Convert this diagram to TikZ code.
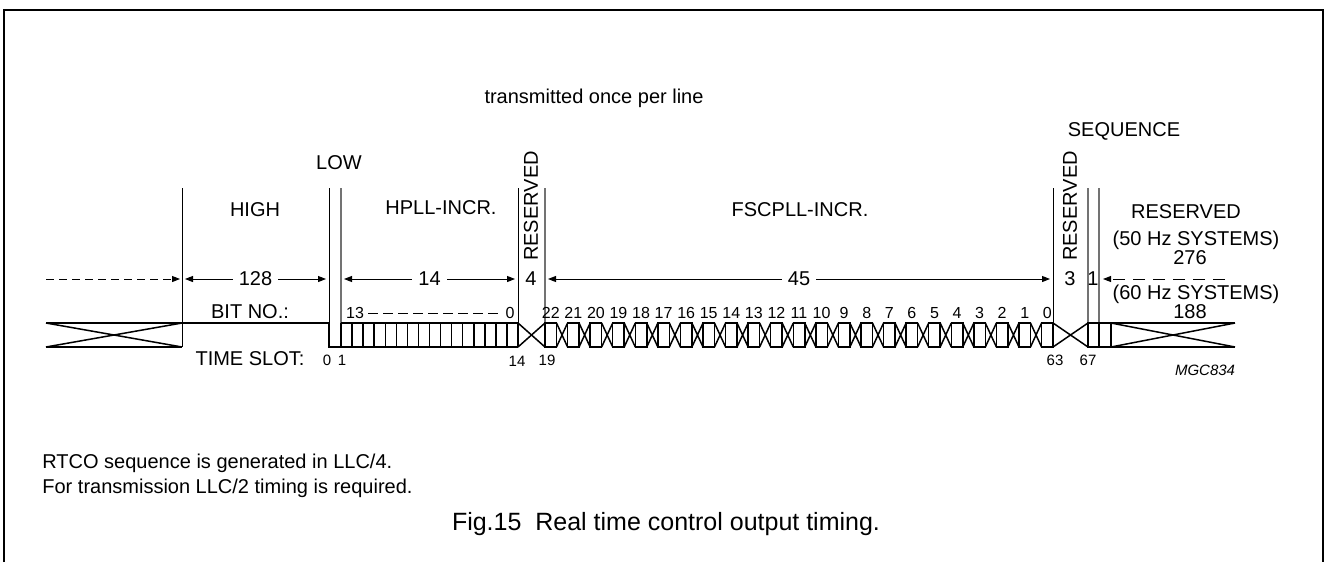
\documentclass[tikz,border=0pt]{standalone}
\usepackage{fontspec}
\setmainfont{Liberation Sans}
\usetikzlibrary{arrows.meta}

\begin{document}
\begin{tikzpicture}[x=0.5pt,y=-0.5pt]

\tikzstyle{lab}=[font=\fontsize{10}{12}\selectfont, inner sep=1pt]
\tikzstyle{bitlab}=[font=\fontsize{8}{9}\selectfont, inner sep=0pt]
\tikzstyle{slotlab}=[font=\fontsize{7.5}{8}\selectfont, inner sep=0pt]
\tikzstyle{dim}=[{Triangle[length=4pt,width=3pt]}-{Triangle[length=4pt,width=3pt]}, line width=0.5pt, shorten >=1.5pt, shorten <=1.5pt]
\tikzstyle{dimgap}=[lab, fill=white, inner xsep=3pt]
\tikzstyle{guide}=[line width=0.5pt]
\tikzstyle{guidegray}=[line width=0.6pt, draw=black!55]
\tikzstyle{sig}=[line width=0.75pt]
\tikzstyle{sigthick}=[line width=1.1pt]

\useasboundingbox (0,0) rectangle (1326,562);
% frame
\draw[line width=0.8pt] (4,562) -- (4,10) -- (1323,10) -- (1323,562);

% headings
\node[lab] (once) at (594,98) {transmitted once per line};
\node[lab] (seq) at (1124,131) {SEQUENCE};
\node[lab] (low) at (339,163) {LOW};
\node[lab] (high) at (255,210) {HIGH};
\node[lab] (hpll) at (441,208) {HPLL-INCR.};
\node[lab] (fsc) at (800,210) {FSCPLL-INCR.};
\node[lab, rotate=90] (resA) at (531,206) {RESERVED};
\node[lab, rotate=90] (resB) at (1070,206) {RESERVED};
\node[lab] (resC) at (1186,212) {RESERVED};
\node[lab] (hzA) at (1196,240) {(50 Hz SYSTEMS)};
\node[lab] (nA) at (1190,258) {276};
\node[lab] (hzB) at (1196,294) {(60 Hz SYSTEMS)};
\node[lab] (nB) at (1190,312) {188};

% guide lines
\draw[guide] (182,188) -- (182,347);
\draw[guide] (329,188) -- (329,323);
\draw[guide] (518,188) -- (518,323);
\draw[guide] (1053,188) -- (1053,323);
\draw[guidegray] (341,188) -- (341,323);
\draw[guidegray] (545,188) -- (545,323);
\draw[guidegray] (1088,188) -- (1088,323);
\draw[guidegray] (1099,188) -- (1099,323);

% dimension row
\coordinate (dl) at (46,279);
\coordinate (h0) at (182,279);
\coordinate (h1) at (329,279);
\coordinate (p0) at (341,279);
\coordinate (p1) at (518,279);
\coordinate (f0) at (545,279);
\coordinate (f1) at (1053,279);
\coordinate (s1) at (1099,279);
\coordinate (dr) at (1225,279);
\draw[-{Triangle[length=4pt,width=3pt]}, line width=0.5pt, dash pattern=on 4pt off 2.5pt, shorten >=1pt] (dl) -- (h0);
\draw[dim] (h0) -- node[dimgap] (n128) {128} (h1);
\draw[dim] (p0) -- node[dimgap] (n14) {14} (p1);
\draw[dim] (f0) -- node[dimgap] (n45) {45} (f1);
\draw[-{Triangle[length=4pt,width=3pt]}, line width=0.5pt, dash pattern=on 6pt off 4pt, shorten >=2pt] (dr) -- (s1);
\node[lab] (nres4) at (531,279) {4};
\node[lab] (nres3) at (1070,279) {3};
\node[lab] (nseq1) at (1093,279) {1};

% row titles
\node[lab] (bitno) at (250,312) {BIT NO.:};
\node[lab] (tslot) at (250,359) {TIME SLOT:};

% signal: left part and LOW
\draw[sigthick] (46,323) -- (182,323) (46,347) -- (182,347);
\draw[sig] (46,323) -- (182,347) (46,347) -- (182,323);
\draw[sig] (182,323) -- (329,323) -- (329,347) -- (341,347) -- (341,323);

% HPLL cells
\draw[sig] (341,323) -- (518,323) (341,347) -- (518,347);
\foreach \i in {0,...,16}
  \draw[sig] ({341+\i*11.0625},323) -- ++(0,24);
\node[bitlab] (hb13) at (355,313) {13};
\node[bitlab] (hb0) at (510,313) {0};
\draw[line width=0.5pt, dash pattern=on 5pt off 2.5pt] ([xshift=2pt]hb13.east) -- ([xshift=-2pt]hb0.west);

% reserved
\draw[sig] (518,323) -- (545,347) (518,347) -- (545,323);

% FSCPLL bits
\foreach \k in {0,...,22}{
  \pgfmathsetmacro{\xs}{545+\k*22.57}
  \pgfmathsetmacro{\xe}{\xs+11.5}
  \pgfmathtruncatemacro{\bitno}{22-\k}
  \draw[sig] (\xs,323) rectangle (\xe,347);
  \node[bitlab] (fb\bitno) at ({(\xs+\xe)/2},313) {\bitno};
  \ifnum\k<22
    \draw[sig] (\xe,323) -- ({\xs+22.57},347) (\xe,347) -- ({\xs+22.57},323);
  \fi
}

% reserved, sequence, reserved tail
\draw[sig] (1053,323) -- (1088,347) (1053,347) -- (1088,323);
\draw[sig] (1088,323) rectangle (1099,347);
\draw[sig] (1099,323) rectangle (1111,347);
\draw[sigthick] (1111,323) -- (1235,323) (1111,347) -- (1235,347);
\draw[sig] (1111,323) -- (1235,347) (1111,347) -- (1235,323);

% time slots
\node[slotlab] (t0) at (327,360) {0};
\node[slotlab] (t1) at (342,360) {1};
\node[slotlab] (t14) at (517,361) {14};
\node[slotlab] (t19) at (547,360) {19};
\node[slotlab] (t63) at (1055,360) {63};
\node[slotlab] (t67) at (1088,360) {67};
\node[font=\fontsize{7.5}{8}\selectfont\itshape, inner sep=0pt] (mgc) at (1205,370) {MGC834};

% notes
\node[lab, anchor=west] (noteA) at (40,463) {RTCO sequence is generated in LLC/4.};
\node[lab, anchor=west] (noteB) at (40,488) {For transmission LLC/2 timing is required.};
\node[font=\fontsize{12.5}{14}\selectfont] (cap) at (666,524) {Fig.15\ \ Real time control output timing.};

\end{tikzpicture}
\end{document}
